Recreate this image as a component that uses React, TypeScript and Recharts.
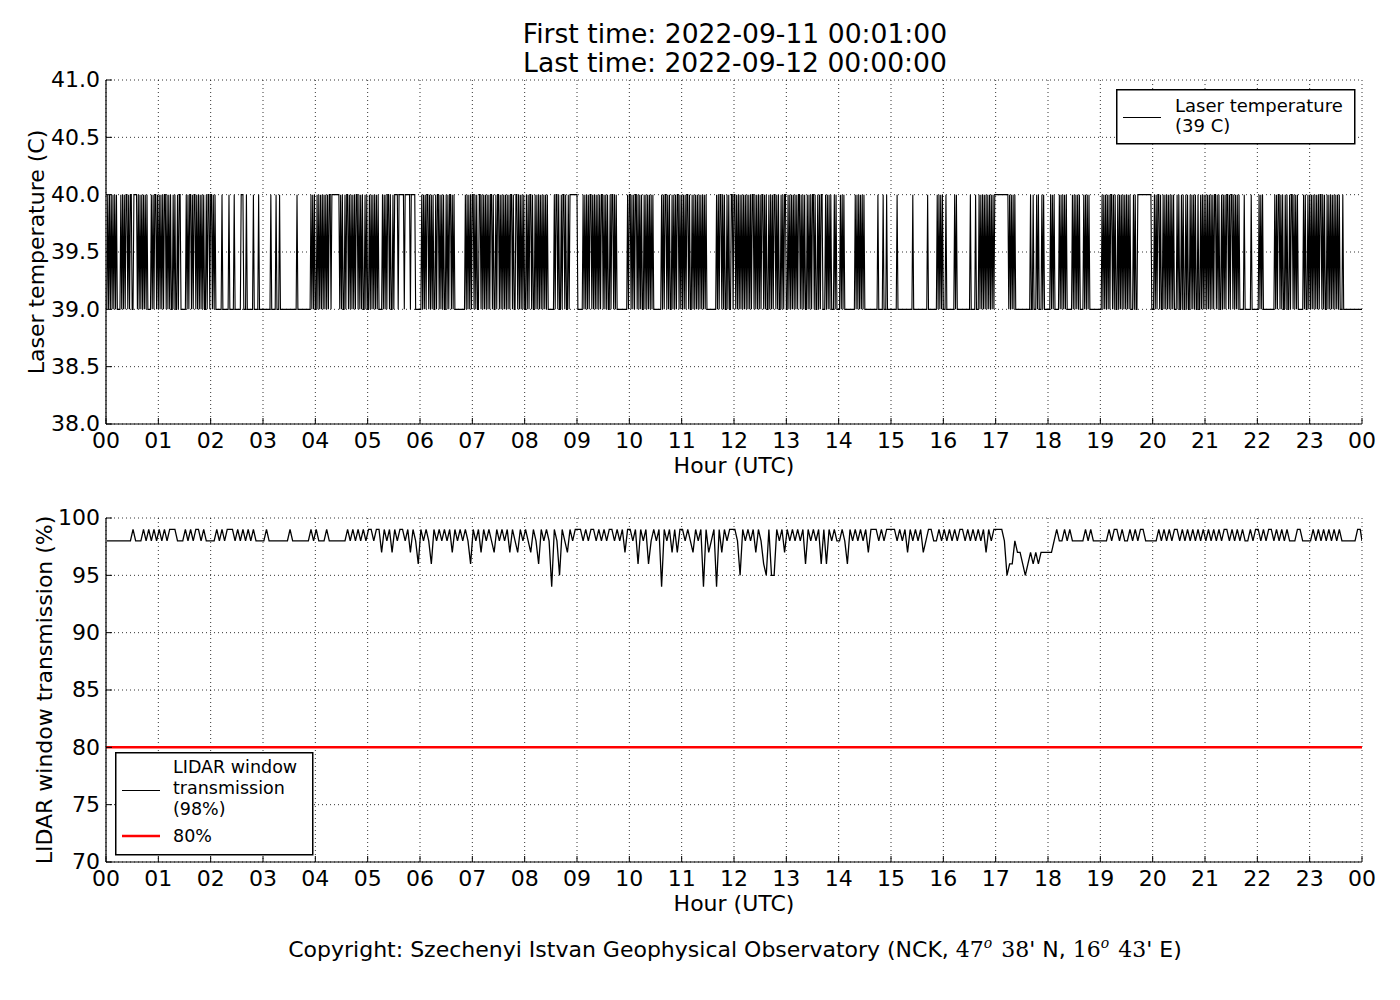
import { LineChart, Line, XAxis, YAxis, CartesianGrid, ReferenceLine, Legend } from "recharts";

const FONT = "'DejaVu Sans', Verdana, sans-serif";
const SERIF = "'DejaVu Serif', 'Liberation Serif', serif";

const hourTicks = [0, 60, 120, 180, 240, 300, 360, 420, 480, 540, 600, 660, 720, 780, 840, 900, 960, 1020, 1080, 1140, 1200, 1260, 1320, 1380, 1440];
const hourLabels = ["00", "01", "02", "03", "04", "05", "06", "07", "08", "09", "10", "11", "12", "13", "14", "15", "16", "17", "18", "19", "20", "21", "22", "23", "00"];

const laserTicks = [38, 38.5, 39, 39.5, 40, 40.5, 41];
const windowTicks = [70, 75, 80, 85, 90, 95, 100];

// laser temperature, one char per minute (0 = 39 C, 1 = 40 C), one string per hour
const laserHourly = [
  "0101010101" + "0100001010" + "1011010110" + "0111101010" + "1010101000" + "0101011010",
  "1010101101" + "0101001010" + "0101100000" + "0101011010" + "1101010101" + "0100101101",
  "1010100000" + "0010000000" + "1000001000" + "0000111000" + "1000000010" + "0000100000",
  "0000000010" + "0000100010" + "0000000000" + "0000000010" + "0000000000" + "0000101010",
  "0101010101" + "0101011011" + "1111111010" + "1001011010" + "1010101101" + "0101001010",
  "0101010101" + "0100001010" + "1011010010" + "1111011111" + "1011111101" + "1111000000",
  "0101010110" + "1010100101" + "1010101001" + "0101101010" + "0000000000" + "0101010101",
  "1010100110" + "1010101010" + "1101001011" + "0101010101" + "0101101001" + "1010101010",
  "0101011010" + "0101010101" + "0101010000" + "0001011010" + "0101101001" + "0111111111",
  "0000001010" + "1010110101" + "0101010110" + "1010100101" + "1010100000" + "0000000101",
  "1010101101" + "0101001010" + "1010101000" + "0000001010" + "1101010010" + "1010110101",
  "0101011010" + "0101010101" + "0101010100" + "0000000001" + "0101101010" + "0101001101",
  "1010101010" + "1010101010" + "1101010101" + "0110101001" + "0101011010" + "1001010110",
  "0101010101" + "0101101010" + "1001010101" + "1010010101" + "1000101010" + "1000101000",
  "0101010000" + "0000000010" + "1010101010" + "0000000000" + "0000100000" + "1000100000",
  "0000001000" + "0000000000" + "0000100000" + "0000000000" + "0100000000" + "0010101010",
  "0010000000" + "0010100000" + "0000000000" + "1000001000" + "1010101010" + "1010101011",
  "1111111111" + "1111010101" + "0100000000" + "0000000001" + "0010001010" + "0010100000",
  "0010101000" + "0010101010" + "1000000101" + "0101010000" + "1010101000" + "0000000000",
  "0101010101" + "0110101001" + "0101010101" + "0101000101" + "0011111111" + "1111111100",
  "0101011010" + "0101010101" + "0101000101" + "0010100101" + "0010101010" + "0100101010",
  "1010101010" + "1101010010" + "1010110101" + "1010101010" + "0000100000" + "0010000000",
  "0101010000" + "0000000001" + "0101101010" + "0101001011" + "0101010000" + "0010100101",
  "0101010101" + "0110101001" + "0101010101" + "0101000100" + "0000000000" + "0000000000",
];

// window transmission, one char per 3 minutes (digit = value - 90 %), one string per hour
const windowHourly = [
  "8888888888" + "9888989898",
  "9898999888" + "9898998988",
  "8898989998" + "9898989888",
  "8988888888" + "9888888898",
  "9888988888" + "8898989898",
  "9989979897" + "9899897986",
  "9898698989" + "8979898986",
  "9897989879" + "8989798798",
  "9879869898" + "4985987989",
  "9989899898" + "9899898979",
  "9896989689" + "8949897979",
  "9898798949" + "7894979899",
  "9859898979" + "8659559897",
  "9898989698" + "9896969898",
  "8986989898" + "9799989899",
  "9989897989" + "8978998898",
  "9898989989" + "8989897989",
  "9998566877" + "6567676777",
  "7789889898" + "8888989888",
  "8889899898" + "8989899888",
  "8898989899" + "8989898989",
  "8989898998" + "9898988989",
  "9898998989" + "8988899888",
  "8989898989" + "8988888899",
];
const windowEnd = 98;
const windowThreshold = 80;

const laserData = laserHourly
  .join("")
  .split("")
  .map((c, i) => ({ minute: i + 1, temp: 39 + Number(c) }));

const windowData = windowHourly
  .join("")
  .split("")
  .map((c, i) => ({ minute: 1 + i * 3, trans: 90 + Number(c) }))
  .concat([{ minute: 1440, trans: windowEnd }]);

const TICK = 6;

const BottomTick = (props: any) => {
  const { x, y, payload } = props;
  return (
    <g>
      <line x1={x} y1={y} x2={x} y2={y - TICK} stroke="#000" />
      <text x={x} y={y + 24} textAnchor="middle" fontFamily={FONT} fontSize={22} fill="#000">
        {hourLabels[hourTicks.indexOf(payload.value)]}
      </text>
    </g>
  );
};

const TopTick = (props: any) => {
  const { x, y } = props;
  return <line x1={x} y1={y} x2={x} y2={y + TICK} stroke="#000" />;
};

const LeftTick = (props: any) => {
  const { x, y, payload, digits } = props;
  return (
    <g>
      <line x1={x} y1={y} x2={x + TICK} y2={y} stroke="#000" />
      <text x={x - 6} y={y} dy="0.33em" textAnchor="end" fontFamily={FONT} fontSize={22} fill="#000">
        {Number(payload.value).toFixed(digits)}
      </text>
    </g>
  );
};

const RightTick = (props: any) => {
  const { x, y } = props;
  return <line x1={x} y1={y} x2={x - TICK} y2={y} stroke="#000" />;
};

const xTitle = (props: any) => {
  const vb = props.viewBox || { x: 106, y: 424, width: 1256 };
  return (
    <text x={vb.x + vb.width / 2} y={vb.y + 49} textAnchor="middle" fontFamily={FONT} fontSize={22} fill="#000">
      Hour (UTC)
    </text>
  );
};

const yTitle = (label: string, cx: number) => (props: any) => {
  const vb = props.viewBox || { y: 80, height: 344 };
  const cy = vb.y + vb.height / 2;
  return (
    <text
      transform={`translate(${cx},${cy}) rotate(-90)`}
      textAnchor="middle"
      dominantBaseline="central"
      fontFamily={FONT}
      fontSize={22}
      fill="#000"
    >
      {label}
    </text>
  );
};

const LaserLegend = () => (
  <svg width={240} height={56} style={{ display: "block" }}>
    <rect x={0.75} y={0.75} width={238} height={54} fill="#fff" stroke="#000" strokeWidth={1.5} />
    <line x1={7} x2={45} y1={28.5} y2={28.5} stroke="#000" strokeWidth={1.2} />
    <text fontFamily={FONT} fontSize={18} fill="#000">
      <tspan x={59} y={22.5}>Laser temperature</tspan>
      <tspan x={59} y={42.5}>(39 C)</tspan>
    </text>
  </svg>
);

const WindowLegend = () => (
  <svg width={199} height={104} style={{ display: "block" }}>
    <rect x={0.75} y={0.75} width={197} height={102} fill="#fff" stroke="#000" strokeWidth={1.5} />
    <line x1={7} x2={45} y1={38.5} y2={38.5} stroke="#000" strokeWidth={1.2} />
    <line x1={7} x2={45} y1={84} y2={84} stroke="#ff0000" strokeWidth={2.7} />
    <text fontFamily={FONT} fontSize={17.5} fill="#000">
      <tspan x={58} y={20.5}>LIDAR window</tspan>
      <tspan x={58} y={42}>transmission</tspan>
      <tspan x={58} y={63}>(98%)</tspan>
      <tspan x={58} y={90}>80%</tspan>
    </text>
  </svg>
);

const axisCommon = {
  tickLine: false,
  tickSize: 0,
  tickMargin: 0,
  interval: 0 as const,
  allowDataOverflow: true,
  axisLine: { stroke: "#000", strokeWidth: 1.2 },
};

function LaserPanel() {
  return (
    <LineChart width={1400} height={480} data={laserData} margin={{ top: 80, right: 38, bottom: 0, left: 0 }}>
      <CartesianGrid stroke="#000" strokeWidth={0.8} strokeDasharray="1 3" />
      <XAxis
        {...axisCommon}
        dataKey="minute"
        type="number"
        domain={[0, 1440]}
        ticks={hourTicks}
        height={56}
        tick={<BottomTick />}
        label={xTitle}
      />
      <XAxis
        {...axisCommon}
        xAxisId="top"
        orientation="top"
        type="number"
        domain={[0, 1440]}
        ticks={hourTicks}
        height={0}
        tick={<TopTick />}
      />
      <YAxis
        {...axisCommon}
        type="number"
        domain={[38, 41]}
        ticks={laserTicks}
        width={106}
        tick={<LeftTick digits={1} />}
        label={yTitle("Laser temperature (C)", 36)}
      />
      <YAxis
        {...axisCommon}
        yAxisId="right"
        orientation="right"
        type="number"
        domain={[38, 41]}
        ticks={laserTicks}
        width={0}
        tick={<RightTick />}
      />
      <Line
        type="linear"
        dataKey="temp"
        stroke="#000"
        strokeWidth={1.1}
        dot={false}
        isAnimationActive={false}
        name="Laser temperature (39 C)"
      />
      <Legend
        layout="horizontal"
        verticalAlign="middle"
        align="center"
        content={() => <LaserLegend />}
        wrapperStyle={{ left: 1116, top: 89, width: 240, height: 56 }}
      />
    </LineChart>
  );
}

function WindowPanel() {
  return (
    <LineChart width={1400} height={480} data={windowData} margin={{ top: 80, right: 38, bottom: 0, left: 0 }}>
      <CartesianGrid stroke="#000" strokeWidth={0.8} strokeDasharray="1 3" />
      <XAxis
        {...axisCommon}
        dataKey="minute"
        type="number"
        domain={[0, 1440]}
        ticks={hourTicks}
        height={56}
        tick={<BottomTick />}
        label={xTitle}
      />
      <XAxis
        {...axisCommon}
        xAxisId="top"
        orientation="top"
        type="number"
        domain={[0, 1440]}
        ticks={hourTicks}
        height={0}
        tick={<TopTick />}
      />
      <YAxis
        {...axisCommon}
        type="number"
        domain={[70, 100]}
        ticks={windowTicks}
        width={106}
        tick={<LeftTick digits={0} />}
        label={yTitle("LIDAR window transmission (%)", 44)}
      />
      <YAxis
        {...axisCommon}
        yAxisId="right"
        orientation="right"
        type="number"
        domain={[70, 100]}
        ticks={windowTicks}
        width={0}
        tick={<RightTick />}
      />
      <ReferenceLine y={windowThreshold} stroke="#ff0000" strokeWidth={2.5} />
      <Line
        type="linear"
        dataKey="trans"
        stroke="#000"
        strokeWidth={1.3}
        dot={false}
        isAnimationActive={false}
        name="LIDAR window transmission (98%)"
      />
      <Legend
        layout="horizontal"
        verticalAlign="middle"
        align="center"
        content={() => <WindowLegend />}
        wrapperStyle={{ left: 115, top: 314, width: 199, height: 104 }}
      />
    </LineChart>
  );
}

export default function App() {
  return (
    <div style={{ position: "relative", width: 1400, height: 1000, background: "#fff", fontFamily: FONT, overflow: "hidden" }}>
      <style>{`body{margin:0;background:#fff}`}</style>
      <div style={{ position: "absolute", left: 0, top: 0 }}>
        <LaserPanel />
      </div>
      <div style={{ position: "absolute", left: 0, top: 438 }}>
        <WindowPanel />
      </div>
      <svg width={1400} height={1000} style={{ position: "absolute", left: 0, top: 0, pointerEvents: "none" }}>
        <text x={735} y={43} textAnchor="middle" fontFamily={FONT} fontSize={26.6} fill="#000">
          First time: 2022-09-11 00:01:00
        </text>
        <text x={735} y={72} textAnchor="middle" fontFamily={FONT} fontSize={26.6} fill="#000">
          Last time: 2022-09-12 00:00:00
        </text>
        <text x={735} y={957} textAnchor="middle" fontFamily={FONT} fontSize={22} fill="#000">
          Copyright: Szechenyi Istvan Geophysical Observatory (NCK,{" "}
          <tspan fontFamily={SERIF}>47</tspan>
          <tspan fontFamily={SERIF} fontStyle="italic" fontSize={14} dy={-9}>o</tspan>
          <tspan fontFamily={SERIF} dy={9} dx={9}>38</tspan>
          <tspan>' N, </tspan>
          <tspan fontFamily={SERIF}>16</tspan>
          <tspan fontFamily={SERIF} fontStyle="italic" fontSize={14} dy={-9}>o</tspan>
          <tspan fontFamily={SERIF} dy={9} dx={9}>43</tspan>
          <tspan>' E)</tspan>
        </text>
      </svg>
    </div>
  );
}
